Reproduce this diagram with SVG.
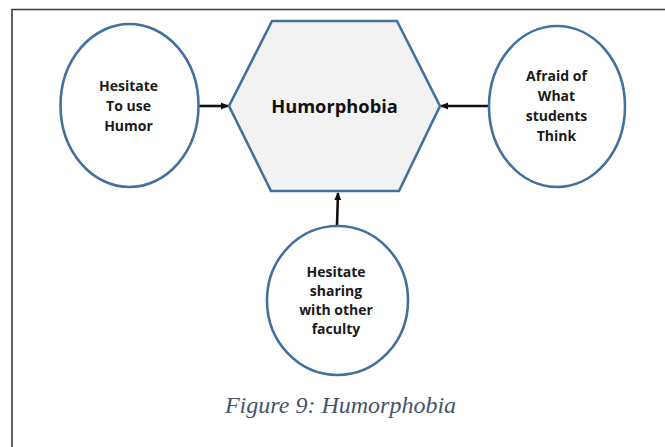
<svg xmlns="http://www.w3.org/2000/svg" width="665" height="447" viewBox="0 0 665 447">
<style>
.node{fill:#ffffff;stroke:#41719C;stroke-width:2.6}
.hex{fill:#F2F2F2;stroke:#41719C;stroke-width:2.6;stroke-linejoin:miter}
.lbl{font-family:"Open Sans","Liberation Sans",sans-serif;font-weight:bold;font-size:14px;fill:#1a1a1a;text-anchor:middle}
.title{font-family:"Open Sans","Liberation Sans",sans-serif;font-weight:bold;font-size:18.3px;fill:#111;text-anchor:middle}
.conn{stroke:#111;stroke-width:2.6;fill:none}
.cap{font-family:"Liberation Serif","Times New Roman",serif;font-style:italic;font-size:24px;fill:#44546A;text-anchor:middle}
</style>
<defs>
<marker id="arr" markerWidth="9" markerHeight="9" refX="7" refY="4.5" orient="auto" markerUnits="userSpaceOnUse">
<path d="M0,1 L8,4.5 L0,8 Z" fill="#111"/>
</marker>
</defs>
<rect x="0" y="0" width="665" height="447" fill="#ffffff"/>
<g id="frame">
<path d="M12,447 V9.5 H665" fill="none" stroke="#3a3a3a" stroke-width="1.6"/>
</g>
<g id="connectors">
<line class="conn" x1="197" y1="106" x2="228" y2="106" marker-end="url(#arr)"/>
<line class="conn" x1="489" y1="106" x2="441" y2="106" marker-end="url(#arr)"/>
<line class="conn" x1="337" y1="225" x2="338" y2="193" marker-end="url(#arr)"/>
</g>
<g id="humorphobia">
<polygon class="hex" points="272,21 397,21 440,106 399,191 271,191 229,106"/>
<text class="title" x="334.5" y="113">Humorphobia</text>
</g>
<g id="hesitate-humor">
<ellipse class="node" cx="129.5" cy="105.5" rx="69" ry="81.5"/>
<text class="lbl" x="128.5" y="90.7">Hesitate</text>
<text class="lbl" x="128.5" y="110.7">To use</text>
<text class="lbl" x="128.5" y="130.5">Humor</text>
</g>
<g id="afraid">
<ellipse class="node" cx="557" cy="106.5" rx="68" ry="80.5"/>
<text class="lbl" x="556.5" y="81">Afraid of</text>
<text class="lbl" x="556.5" y="101">What</text>
<text class="lbl" x="556.5" y="121">students</text>
<text class="lbl" x="556.5" y="141">Think</text>
</g>
<g id="hesitate-sharing">
<ellipse class="node" cx="337.5" cy="300.5" rx="70.5" ry="74.5"/>
<text class="lbl" x="336" y="277">Hesitate</text>
<text class="lbl" x="336" y="296">sharing</text>
<text class="lbl" x="336" y="315">with other</text>
<text class="lbl" x="336" y="334">faculty</text>
</g>
<g id="caption">
<text class="cap" x="340.5" y="413">Figure 9: Humorphobia</text>
</g>
</svg>
